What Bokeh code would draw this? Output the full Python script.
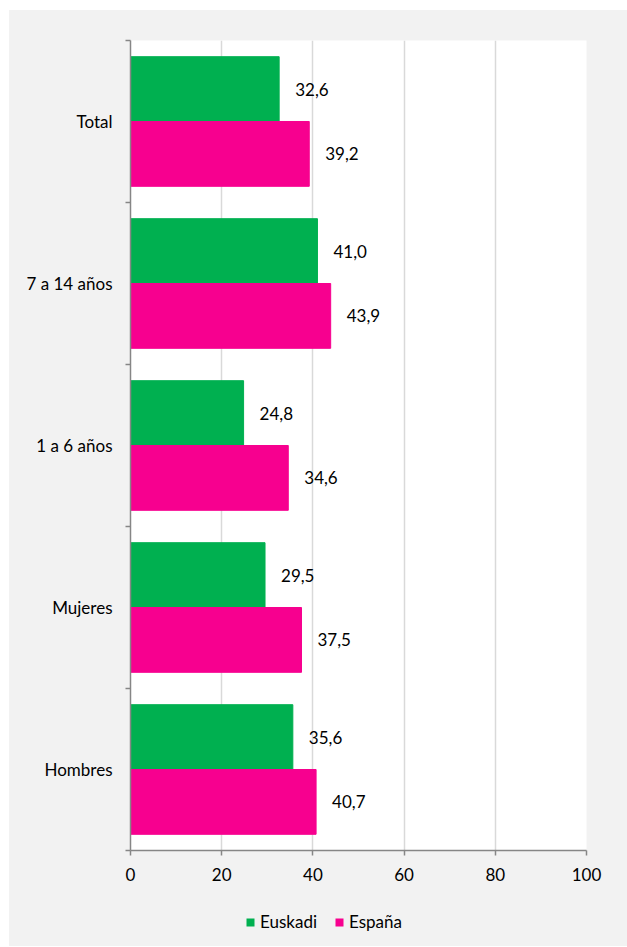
from bokeh.plotting import figure
from bokeh.layouts import column
from bokeh.models import Range1d, FixedTicker, Legend, LegendItem, ColumnDataSource
from bokeh.core.properties import value
from bokeh.embed import file_html
from bokeh.resources import INLINE

categories = ["Hombres", "Mujeres", "1 a 6 años", "7 a 14 años", "Total"]
euskadi = [35.6, 29.5, 24.8, 41.0, 32.6]
espana = [40.7, 37.5, 34.6, 43.9, 39.2]
series = ["Euskadi", "España"]
x_ticks = [0, 20, 40, 60, 80, 100]

FONT = "Lato"
FS = "17px"
GREEN = "#00B050"
PINK = "#F7008F"
BG = "#F2F2F2"

centers = [i + 0.5 for i in range(len(categories))]
fmt = lambda v: f"{v:.1f}".replace(".", ",")

src_e = ColumnDataSource(dict(y=[c + 0.2 for c in centers], x=euskadi, lab=[fmt(v) for v in euskadi]))
src_s = ColumnDataSource(dict(y=[c - 0.2 for c in centers], x=espana, lab=[fmt(v) for v in espana]))

p = figure(width=618, height=885, output_backend="svg", toolbar_location=None,
           x_range=Range1d(0, 100), y_range=Range1d(0, len(categories)),
           min_border_left=121, min_border_right=41, min_border_top=30, min_border_bottom=45)
p.background_fill_color = "white"
p.border_fill_color = BG
p.outline_line_color = None

r_e = p.hbar(y="y", right="x", left=0, height=0.4, source=src_e, fill_color=GREEN, line_color=GREEN)
r_s = p.hbar(y="y", right="x", left=0, height=0.4, source=src_s, fill_color=PINK, line_color=PINK)

for src in (src_e, src_s):
    p.text(x="x", y="y", text="lab", source=src, x_offset=16, text_baseline="middle",
           text_align="left", text_font=value(FONT), text_font_size=FS, text_color="#000000")

# axes
xa = p.xaxis[0]
xa.ticker = FixedTicker(ticks=x_ticks)
xa.axis_line_color = "#868686"
xa.axis_line_width = 1.5
xa.major_tick_line_color = "#868686"
xa.major_tick_line_width = 1.5
xa.major_tick_out = 5
xa.major_tick_in = 0
xa.minor_tick_line_color = None
xa.major_label_standoff = 12
xa.major_label_text_font = FONT
xa.major_label_text_font_size = FS
xa.major_label_text_color = "#000000"

ya = p.yaxis[0]
ya.ticker = FixedTicker(ticks=centers, minor_ticks=list(range(len(categories) + 1)))
ya.major_label_overrides = {c: name for c, name in zip(centers, categories)}
ya.axis_line_color = "#868686"
ya.axis_line_width = 1.5
ya.major_tick_line_color = None
ya.major_tick_out = 0
ya.major_tick_in = 0
ya.minor_tick_line_color = "#868686"
ya.minor_tick_line_width = 1.5
ya.minor_tick_out = 5
ya.minor_tick_in = 0
ya.major_label_standoff = 13
ya.major_label_text_font = FONT
ya.major_label_text_font_size = FS
ya.major_label_text_color = "#000000"

p.xgrid.ticker = FixedTicker(ticks=x_ticks[1:])
p.xgrid.grid_line_color = "#D9D9D9"
p.xgrid.grid_line_width = 1.5
p.ygrid.visible = False

# legend strip
p2 = figure(width=618, height=51, output_backend="svg", toolbar_location=None,
            x_range=Range1d(0, 1), y_range=Range1d(0, 1),
            min_border_left=0, min_border_right=0, min_border_top=0, min_border_bottom=0)
p2.axis.visible = False
p2.grid.visible = False
p2.background_fill_alpha = 0
p2.border_fill_color = BG
p2.outline_line_color = None
# zero-width swatch sources: nothing is drawn, they only feed the legend swatches
hidden = dict(y=[0.5], x=[0.0])
d_e = p2.hbar(y="y", right="x", left="x", height=0.4, source=ColumnDataSource(hidden),
              fill_color=GREEN, line_color=None)
d_s = p2.hbar(y="y", right="x", left="x", height=0.4, source=ColumnDataSource(hidden),
              fill_color=PINK, line_color=None)
legend = Legend(items=[LegendItem(label=series[0], renderers=[d_e]),
                       LegendItem(label=series[1], renderers=[d_s])],
                orientation="horizontal", location=(115, 14),
                glyph_width=10, glyph_height=10, label_standoff=5, spacing=17,
                padding=0, margin=0, border_line_color=None, background_fill_alpha=0,
                label_text_font=FONT, label_text_font_size=FS, label_text_color="#000000")
p2.add_layout(legend)

layout = column(p, p2, spacing=0)
layout.margin = (10, 0, 0, 9)
layout.styles = {"background-color": BG}

open("out.html", "w").write(file_html(layout, INLINE))
